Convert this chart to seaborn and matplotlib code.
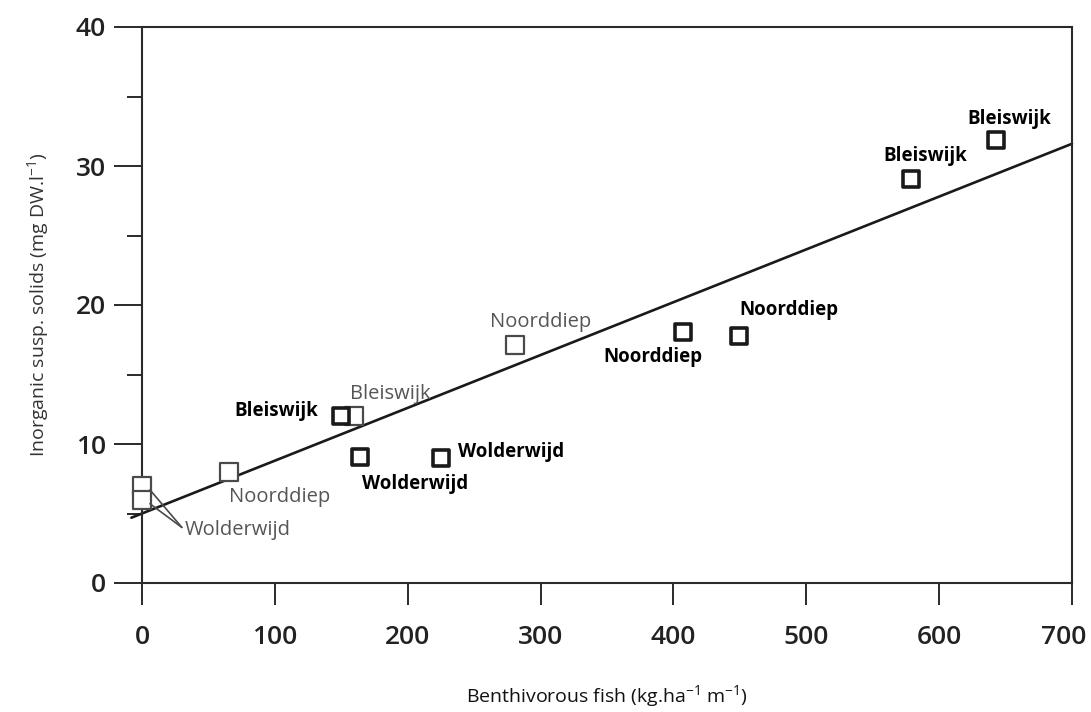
import matplotlib
matplotlib.use("Agg")
import matplotlib.pyplot as plt
from matplotlib.ticker import MultipleLocator
from matplotlib.transforms import ScaledTranslation
import numpy as np
import pandas as pd
import seaborn as sns

# Benthivorous fish biomass vs. inorganic suspended solids, per lake
fish_open = [0.0, 0.0, 65.8, 159.4, 280.5]
solids_open = [7.0, 6.0, 8.0, 12.05, 17.1]
lakes_open = ["Wolderwijd", "", "Noorddiep", "Bleiswijk", "Noorddiep"]

fish_solid = [150.0, 164.3, 224.8, 407.5, 449.6, 579.0, 642.9]
solids_solid = [12.05, 9.1, 9.0, 18.06, 17.8, 29.1, 31.9]
lakes_solid = ["Bleiswijk", "Wolderwijd", "Wolderwijd", "Noorddiep",
               "Noorddiep", "Bleiswijk", "Bleiswijk"]

# fitted regression line
fit_intercept = 5.0
fit_slope = 0.038

x_ticks = [0, 100, 200, 300, 400, 500, 600, 700]
y_ticks = [0, 10, 20, 30, 40]

sns.set_theme(style="ticks")
plt.rcParams["font.family"] = ["Open Sans", "DejaVu Sans"]
plt.rcParams["mathtext.fontset"] = "custom"
plt.rcParams["mathtext.rm"] = "Open Sans"
plt.rcParams["mathtext.it"] = "Open Sans"

fig = plt.figure(figsize=(10.91, 7.12), dpi=100)
ax = fig.add_axes([142 / 1091, 1 - 583 / 712, (1072 - 142) / 1091, (583 - 27) / 712])

ink = "#1a1a1a"
grey = "#4a4a4a"

# regression line
xl = np.array([-8.0, 700.0])
ax.plot(xl, fit_intercept + fit_slope * xl, color=ink, lw=1.9, clip_on=False, zorder=2)

df_open = pd.DataFrame({"fish": fish_open, "solids": solids_open})
df_solid = pd.DataFrame({"fish": fish_solid, "solids": solids_solid})

sns.scatterplot(data=df_open, x="fish", y="solids", ax=ax, marker="s", s=150,
                facecolor="white", edgecolor=grey, linewidth=1.6, zorder=3,
                clip_on=False)
sns.scatterplot(data=df_solid, x="fish", y="solids", ax=ax, marker="s", s=135,
                facecolor="white", edgecolor=ink, linewidth=2.6, zorder=3,
                clip_on=False)

# label placement (offsets in pixels, alignment)
open_layout = [(43, -44, "left"), None, (0, -25, "left"), (-4, 22, "left"), (26, 23, "center")]
solid_layout = [(-23, 5, "right"), (2, -27, "left"), (17, 6, "left"), (19, -25, "right"),
                (0, 26, "left"), (14, 23, "center"), (13, 21, "center")]

for x, y, name, lay in zip(fish_open, solids_open, lakes_open, open_layout):
    if lay is None or not name:
        continue
    dx, dy, ha = lay
    ax.annotate(name, (x, y), xytext=(dx, dy), textcoords="offset pixels",
                ha=ha, va="center", fontsize=14.5, color="#555555")

for x, y, name, lay in zip(fish_solid, solids_solid, lakes_solid, solid_layout):
    dx, dy, ha = lay
    ax.annotate(name, (x, y), xytext=(dx, dy), textcoords="offset pixels",
                ha=ha, va="center", fontsize=13.5, color="black", fontweight="bold")

# leader lines from the two Wolderwijd points at zero
for y0 in solids_open[:2]:
    ax.annotate("", xy=(fish_open[0] + 6, y0 - 0.3), xytext=(30, 4.0),
                arrowprops=dict(arrowstyle="-", color=grey, lw=1.2,
                                shrinkA=0, shrinkB=0))

ax.set_xlim(0, 700)
ax.set_ylim(0, 40)
ax.set_xticks(x_ticks)
ax.set_yticks(y_ticks)
ax.yaxis.set_minor_locator(MultipleLocator(5))

for side in ["left", "right", "top", "bottom"]:
    ax.spines[side].set_visible(True)
    ax.spines[side].set_color("#2a2a2a")
    ax.spines[side].set_linewidth(1.5)

ax.tick_params(axis="x", which="major", direction="out", length=16, width=1.4,
               pad=14, labelsize=19, colors="#2a2a2a")
ax.tick_params(axis="y", which="major", direction="out", length=20, width=1.4,
               pad=6, labelsize=19, colors="#2a2a2a")
ax.tick_params(axis="y", which="minor", direction="out", length=11, width=1.4,
               colors="#2a2a2a")
for lab in ax.get_xticklabels() + ax.get_yticklabels():
    lab.set_fontweight("semibold")
    lab.set_color("#222222")

# nudge the last x label inward so it stays on the canvas
last = ax.get_xticklabels()[-1]
last.set_transform(last.get_transform() + ScaledTranslation(-8 / 100, 0, fig.dpi_scale_trans))

ax.set_xlabel(r"Benthivorous fish (kg.ha$^{-1}$ m$^{-1}$)", fontsize=14,
              color="#111111", labelpad=24)
ax.set_ylabel(r"Inorganic susp. solids (mg DW.l$^{-1}$)", fontsize=14,
              color="#333333", labelpad=18)

fig.savefig("out.png", dpi=100, facecolor="white")
